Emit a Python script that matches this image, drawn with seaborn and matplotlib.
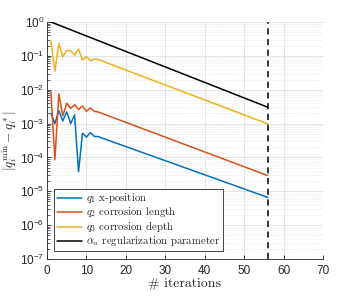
import numpy as np
import pandas as pd
import matplotlib
matplotlib.use("Agg")
import matplotlib.pyplot as plt
import seaborn as sns
from matplotlib.ticker import LogLocator, NullFormatter, FixedLocator
from matplotlib.lines import Line2D

# ---------------- data ----------------
iters_osc = [1, 2, 3, 4, 5, 6, 7, 8, 9, 10, 11, 12, 13]
q1_osc = [2.0e-3, 1.0e-3, 2.4e-3, 1.2e-3, 2.2e-3, 1.0e-3, 1.8e-3, 3.8e-5, 5.2e-4, 4.0e-4, 5.4e-4, 4.2e-4, 4.1e-4]
q2_osc = [8.5e-3, 8.5e-5, 7.5e-3, 1.7e-3, 4.0e-3, 2.8e-3, 3.6e-3, 2.6e-3, 3.3e-3, 2.3e-3, 2.9e-3, 2.3e-3, 2.2e-3]
q3_osc = [0.27, 0.035, 0.23, 0.095, 0.145, 0.14, 0.106, 0.16, 0.075, 0.095, 0.072, 0.08, 0.078]
last_iter = 56
q1_last = 6.6e-6
q2_last = 2.9e-5
q3_last = 9.8e-4
alpha_iters = [1, 56]
alpha_vals = [1.0, 3.04e-3]

labels = [r"$q_1$ x-position", r"$q_2$ corrosion length",
          r"$q_3$ corrosion depth", r"$\alpha_n$ regularization parameter"]
colors = ["#0072BD", "#D95319", "#EDB120", "#000000"]
xticks = [0, 10, 20, 30, 40, 50, 60, 70]
yexp = [0, -1, -2, -3, -4, -5, -6, -7]

rows = []
for name, osc, last in zip(labels[:3], [q1_osc, q2_osc, q3_osc], [q1_last, q2_last, q3_last]):
    for it, v in zip(iters_osc, osc):
        rows.append((name, it, v))
    rows.append((name, last_iter, last))
for it, v in zip(alpha_iters, alpha_vals):
    rows.append((labels[3], it, v))
df = pd.DataFrame(rows, columns=["series", "iter", "err"])

# ---------------- style ----------------
sns.set_style("white")
plt.rcParams["font.family"] = ["Liberation Sans", "DejaVu Sans"]
plt.rcParams["mathtext.fontset"] = "custom"
plt.rcParams["mathtext.rm"] = "Liberation Sans"
plt.rcParams["mathtext.it"] = "Liberation Sans:italic"

fig = plt.figure(figsize=(3.57, 2.98), dpi=100)
ax = fig.add_axes([47/357, 1-259/298, (323-47)/357, (259-22)/298])

sns.lineplot(data=df, x="iter", y="err", hue="series", palette=colors,
             hue_order=labels, sort=False, estimator=None, ax=ax,
             linewidth=1.1, legend=False)
ax.set_yscale("log")
ax.set_xlim(0, 70)
ax.set_ylim(1e-7, 1)

# dashed vertical line at last iteration
ax.axvline(last_iter, color="black", linestyle=(0, (4, 3)), linewidth=1.1, zorder=5)

# ticks
ax.xaxis.set_major_locator(FixedLocator(xticks))
ax.set_xticklabels([str(t) for t in xticks])
ax.yaxis.set_major_locator(FixedLocator([10.0**e for e in yexp]))
ax.set_yticklabels([r"$10^{%d}$" % e for e in yexp])
ax.yaxis.set_minor_locator(LogLocator(base=10, subs=np.arange(2, 10), numticks=20))
ax.yaxis.set_minor_formatter(NullFormatter())
ax.tick_params(axis="both", which="both", direction="in", colors="0.15",
               labelsize=8.5, top=False, right=False)
ax.tick_params(axis="both", which="major", length=3, width=0.6)
ax.tick_params(axis="y", which="minor", length=1.8, width=0.5, left=True)
ax.tick_params(axis="x", which="major", bottom=True, pad=4)
ax.tick_params(axis="y", which="major", left=True, pad=2)

# grid
ax.grid(True, which="major", color="0.88", linewidth=0.6)
ax.grid(True, which="minor", axis="y", color="0.9", linewidth=0.5, linestyle=(0, (1.5, 1.5)))
ax.set_axisbelow(True)

for s in ["top", "right"]:
    ax.spines[s].set_visible(False)
for s in ["left", "bottom"]:
    ax.spines[s].set_color("0.15")
    ax.spines[s].set_linewidth(0.6)

ax.set_xlabel("# iterations", fontfamily="cmr10", fontsize=10, color="0.15", labelpad=1)
ylab = ax.set_ylabel(r"$|q_i^{\min} - q_i^*|$", fontsize=9.5, color="0.15")
ylab.set_math_fontfamily("cm")
ylab.set_verticalalignment("center")
ax.yaxis.set_label_coords((10 - 47) / 276, 0.5)

handles = [Line2D([0], [0], color=c, linewidth=1.1) for c in colors]
leg = ax.legend(handles, labels, loc="lower left", bbox_to_anchor=(7/276, 8/237),
                fontsize=7.8, frameon=True, fancybox=False, framealpha=1,
                edgecolor="0.15", handlelength=2.3, handletextpad=0.4,
                labelspacing=0.0, borderpad=0.25, borderaxespad=0)
leg.get_frame().set_linewidth(0.6)
for t in leg.get_texts():
    t.set_fontfamily("cmr10")
    t.set_math_fontfamily("cm")

fig.savefig("out.png", dpi=100)
